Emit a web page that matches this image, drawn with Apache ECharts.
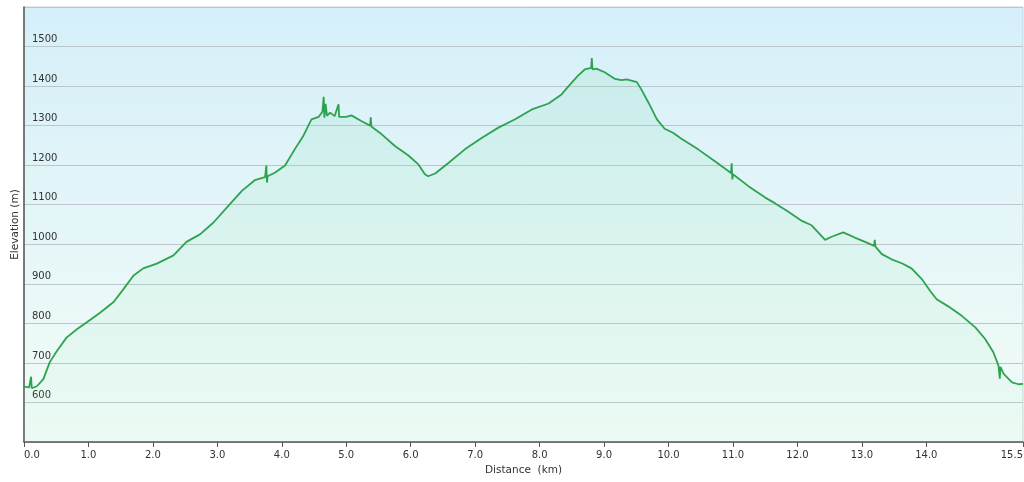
<!DOCTYPE html>
<html>
<head>
<meta charset="utf-8">
<title>Elevation profile</title>
<script src="https://cdn.jsdelivr.net/npm/echarts@6/dist/echarts.min.js"></script>
<style>
  html, body { margin: 0; padding: 0; background: #fff; }
  #chart { width: 1024px; height: 482px; }
</style>
</head>
<body>
<div id="chart"></div>
<script>
// distance along the track (km) and elevation (m)
var distanceKm = [
  0.00, 0.08, 0.10, 0.11, 0.12, 0.20, 0.30, 0.40, 0.51, 0.66, 0.82, 0.97,
  1.18, 1.39, 1.54, 1.70, 1.85, 2.06, 2.32, 2.52, 2.73, 2.94, 3.17, 3.38,
  3.58, 3.74, 3.76, 3.77, 3.78, 3.89, 4.05, 4.20, 4.33, 4.46, 4.57, 4.63,
  4.65, 4.66, 4.68, 4.70, 4.75, 4.82, 4.88, 4.89, 5.00, 5.08, 5.24, 5.37,
  5.38, 5.39, 5.55, 5.76, 5.96, 6.12, 6.22, 6.27, 6.38, 6.58, 6.84, 7.10,
  7.36, 7.62, 7.88, 8.14, 8.34, 8.45, 8.60, 8.70, 8.80, 8.81, 8.82, 8.88,
  9.01, 9.17, 9.27, 9.35, 9.51, 9.58, 9.69, 9.82, 9.94, 10.07, 10.20, 10.46,
  10.72, 10.97, 10.98, 10.99, 11.00, 11.24, 11.50, 11.65, 11.86, 12.07, 12.22, 12.43,
  12.53, 12.71, 12.89, 13.05, 13.19, 13.20, 13.21, 13.31, 13.46, 13.62, 13.77, 13.93,
  14.06, 14.16, 14.34, 14.55, 14.76, 14.91, 15.04, 15.12, 15.14, 15.15, 15.20, 15.33,
  15.43, 15.50
];
var elevationM = [
  640, 638, 640, 665, 636, 641, 659, 702, 730, 764, 785, 802,
  827, 854, 886, 921, 939, 951, 972, 1006, 1025, 1055, 1097, 1135,
  1162, 1170, 1199, 1156, 1172, 1181, 1199, 1240, 1273, 1316, 1322, 1335,
  1373, 1320, 1355, 1325, 1333, 1324, 1354, 1322, 1322, 1326, 1311, 1300,
  1321, 1298, 1278, 1248, 1225, 1202, 1177, 1172, 1179, 1205, 1240, 1269,
  1295, 1316, 1341, 1356, 1379, 1400, 1427, 1442, 1446, 1471, 1442, 1444,
  1435, 1418, 1415, 1417, 1410, 1391, 1358, 1316, 1292, 1282, 1267, 1240,
  1210, 1180, 1205, 1164, 1177, 1147, 1118, 1104, 1082, 1059, 1048, 1011,
  1019, 1030, 1017, 1006, 996, 1011, 994, 975, 962, 952, 939, 912,
  882, 861, 843, 819, 790, 761, 727, 693, 660, 690, 672, 651,
  646, 647
];
var xTickValues = [0, 1, 2, 3, 4, 5, 6, 7, 8, 9, 10, 11, 12, 13, 14, 15.5];

var points = distanceKm.map(function (d, i) {
  return [d, elevationM[i]];
});

var myChart = echarts.init(document.getElementById("chart"));
var labelFont = "DejaVu Sans, Verdana, sans-serif";

myChart.setOption({
  animation: false,
  backgroundColor: "#ffffff",
  grid: {
    left: 24,
    right: 1,
    top: 7,
    bottom: 40,
    containLabel: false,
    outerBoundsMode: "none",
    show: true,
    borderColor: "#c9d3d6",
    borderWidth: 1,
    backgroundColor: {
      type: "linear",
      x: 0, y: 0, x2: 0, y2: 1,
      colorStops: [
        { offset: 0, color: "#d5effa" },
        { offset: 0.5, color: "#e5f6f8" },
        { offset: 1, color: "#f2fcf7" }
      ]
    }
  },
  xAxis: {
    type: "value",
    min: 0,
    max: 15.5,
    name: "Distance  (km)",
    nameLocation: "middle",
    nameGap: 23,
    nameTextStyle: { color: "#333", fontFamily: labelFont, fontSize: 10.5 },
    axisLine: { show: true, lineStyle: { color: "#555", width: 1.5 } },
    axisTick: { show: true, length: 5, customValues: xTickValues, lineStyle: { color: "#555" } },
    splitLine: { show: false },
    axisLabel: {
      customValues: xTickValues,
      margin: 8,
      color: "#333",
      fontFamily: labelFont,
      fontSize: 10,
      alignMinLabel: "left",
      alignMaxLabel: "right",
      formatter: function (v) {
        return v.toFixed(1);
      }
    }
  },
  yAxis: {
    type: "value",
    min: 500,
    max: 1600,
    interval: 100,
    name: "Elevation (m)",
    nameLocation: "middle",
    nameGap: 3,
    nameMoveOverlap: false,
    nameTextStyle: { color: "#333", fontFamily: labelFont, fontSize: 10.5 },
    axisLine: { show: true, lineStyle: { color: "#555", width: 1.5 } },
    axisTick: { show: false },
    splitLine: { show: true, lineStyle: { color: "#bcc7cb", width: 1 } },
    axisLabel: {
      inside: true,
      margin: 8,
      color: "#333",
      fontFamily: labelFont,
      fontSize: 10,
      verticalAlign: "bottom",
      padding: [0, 0, 2, 0],
      showMinLabel: false,
      showMaxLabel: false,
      formatter: function (v) {
        return String(v);
      }
    }
  },
  series: [
    {
      name: "Elevation",
      type: "line",
      data: points,
      showSymbol: false,
      smooth: false,
      lineStyle: { color: "#2ea34f", width: 1.8 },
      areaStyle: {
        color: {
          type: "linear",
          x: 0, y: 0, x2: 0, y2: 1,
          colorStops: [
            { offset: 0, color: "rgba(110,215,160,0.22)" },
            { offset: 1, color: "rgba(150,235,180,0.10)" }
          ]
        }
      }
    }
  ]
});
</script>
</body>
</html>
